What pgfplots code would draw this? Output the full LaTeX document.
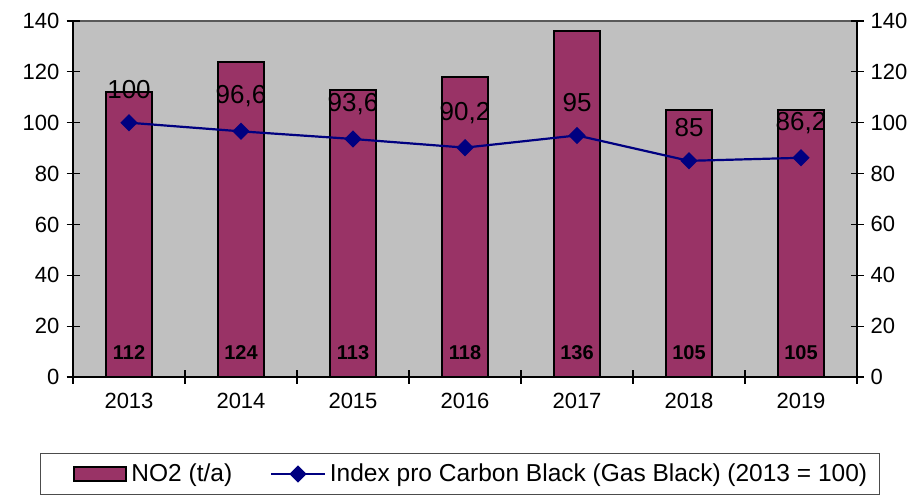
\documentclass[border=0pt]{standalone}
\usepackage{fontspec}
\setmainfont{Liberation Sans}
\usepackage{pgfplots}
\pgfplotsset{compat=1.18}
\definecolor{barfill}{HTML}{993366}
\definecolor{plotbg}{HTML}{C0C0C0}
\definecolor{linenavy}{HTML}{000080}
\pgfplotsset{/pgf/number format/assume math mode=true}

\begin{document}
\begin{tikzpicture}
\pgfplotsset{
  base/.style={
    scale only axis, width=392pt, height=178pt,
    xmin=-0.5, xmax=6.5, ymin=0, ymax=140,
    ytick={0,20,...,140},
    tick align=center, major tick length=6.5pt, minor tick length=6.5pt,
    tick style={black, line width=0.6pt},
    axis line style={black, line width=0.6pt},
    ticklabel style={font=\fontsize{11}{13}\selectfont},
  },
}
\begin{axis}[base,
  axis x line*=bottom, axis y line*=left,
  axis background/.style={fill=plotbg, draw=gray!70!black, line width=0.6pt},
  xtick={0,...,6},
  xticklabels={2013,2014,2015,2016,2017,2018,2019},
  major x tick style={draw=none},
  minor xtick={-0.5,0.5,...,6.5},
  xticklabel style={yshift=-1.5pt},
  legend style={at={(-0.042,-0.2135)}, anchor=north west,
    draw=gray!60!black, line width=0.6pt,
    font=\fontsize{12.25}{14}\selectfont,
    inner xsep=4pt, inner ysep=3pt,
    /tikz/every even column/.append style={column sep=17pt}},
  legend columns=2, legend cell align=left,
]
% NO2 bars
\addplot[ybar, bar width=0.41, fill=barfill, draw=black, line width=0.9pt,
  legend image code/.code={\path (-12pt,0pt);
    \draw[fill=barfill, draw=black, line width=1pt] (0cm,-0.12cm) rectangle (0.93cm,0.12cm);}]
  coordinates {(0,112) (1,124) (2,113) (3,118) (4,136) (5,105) (6,105)};
\addlegendentry{NO2 (t/a)}
% bar value labels near the base
\addplot[draw=none, forget plot, nodes near coords, point meta=explicit symbolic,
  every node near coord/.append style={font=\bfseries\fontsize{10}{12}\selectfont, anchor=center, text=black}]
  coordinates {(0,9.6)[112] (1,9.6)[124] (2,9.6)[113] (3,9.6)[118] (4,9.6)[136] (5,9.6)[105] (6,9.6)[105]};
% index line
\addplot[linenavy, line width=1.1pt, mark=square*, mark size=2.5pt,
  mark options={rotate=45, fill=linenavy, solid},
  nodes near coords, /pgf/number format/use comma,
  every node near coord/.append style={font=\fontsize{13}{15}\selectfont, text=black, anchor=south, inner sep=0pt, yshift=11.5pt},
  legend image code/.code={\draw[mark repeat=2, mark phase=2] plot coordinates {(0cm,0cm) (0.47cm,0cm) (0.94cm,0cm)};}]
  coordinates {(0,100) (1,96.6) (2,93.6) (3,90.2) (4,95) (5,85) (6,86.2)};
\addlegendentry{Index pro Carbon Black (Gas Black) (2013 = 100)}
\end{axis}
\begin{axis}[base, axis y line*=right, axis x line=none]
\addplot[draw=none] coordinates {(0,0)};
\end{axis}
\pgfresetboundingbox
\path[use as bounding box] (-36.5pt,-60pt) rectangle (423pt,188.5pt);
\end{tikzpicture}
\end{document}
